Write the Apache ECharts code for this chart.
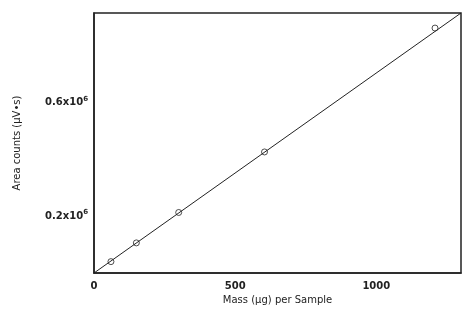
<!DOCTYPE html>
<html><head><meta charset="utf-8">
<script src="https://cdn.jsdelivr.net/npm/echarts@6/dist/echarts.min.js"></script>
<style>html,body{margin:0;padding:0;background:#fff}#c{width:465px;height:324px}</style>
</head><body><div id="c"></div>
<script>
// Data
const massUg = [60, 150, 300, 604, 1208];
const areaCounts = [0.040e6, 0.106e6, 0.213e6, 0.426e6, 0.862e6];
const fitMass = [0, 1300];
const fitArea = [0, 0.915e6];
const xTickLabels = ['0', '500', '1000'];
const yTickLabels = {200000: '0.2', 600000: '0.6'};

const chart = echarts.init(document.getElementById('c'));
const font = 'DejaVu Sans, Verdana, sans-serif';
chart.setOption({
  animation: false,
  grid: {left: 94, right: 4, top: 13, bottom: 51, show: true, borderColor: '#222', borderWidth: 1.5},
  xAxis: {
    type: 'value', min: 0, max: 1300, interval: 500,
    splitLine: {show: false}, axisTick: {show: false},
    axisLine: {show: true, lineStyle: {color: '#222', width: 1.5}},
    axisLabel: {margin: 8, color: '#222', fontFamily: font, fontSize: 10, fontWeight: 600,
      formatter: v => xTickLabels.includes(String(v)) ? String(v) : ''},
    name: 'Mass (\u00b5g) per Sample', nameLocation: 'middle', nameGap: 20,
    nameTextStyle: {color: '#222', fontFamily: font, fontSize: 10, fontWeight: 'normal'}
  },
  yAxis: {
    type: 'value', min: 0, max: 0.915e6, interval: 0.2e6,
    splitLine: {show: false}, axisTick: {show: false},
    axisLine: {show: true, lineStyle: {color: '#222', width: 1.5}},
    axisLabel: {margin: 6, color: '#222', fontFamily: font, fontSize: 10, fontWeight: 600,
      formatter: v => yTickLabels[Math.round(v)] ? yTickLabels[Math.round(v)] + 'x10{s|6}' : '',
      rich: {s: {fontSize: 7, verticalAlign: 'top', padding: [0,0,7,0], fontFamily: font, fontWeight: 600, color: '#222'}}},
    name: 'Area counts (\u00b5V\u2022s)', nameLocation: 'middle', nameGap: 72,
    nameTextStyle: {color: '#222', fontFamily: font, fontSize: 10, fontWeight: 'normal'}
  },
  series: [
    {type: 'line', data: fitMass.map((m, i) => [m, fitArea[i]]), symbol: 'none',
     lineStyle: {color: '#222', width: 1}},
    {type: 'scatter', data: massUg.map((m, i) => [m, areaCounts[i]]), symbol: 'circle', symbolSize: 6,
     itemStyle: {color: '#fff', borderColor: '#222', borderWidth: 1}}
  ]
});
</script></body></html>
